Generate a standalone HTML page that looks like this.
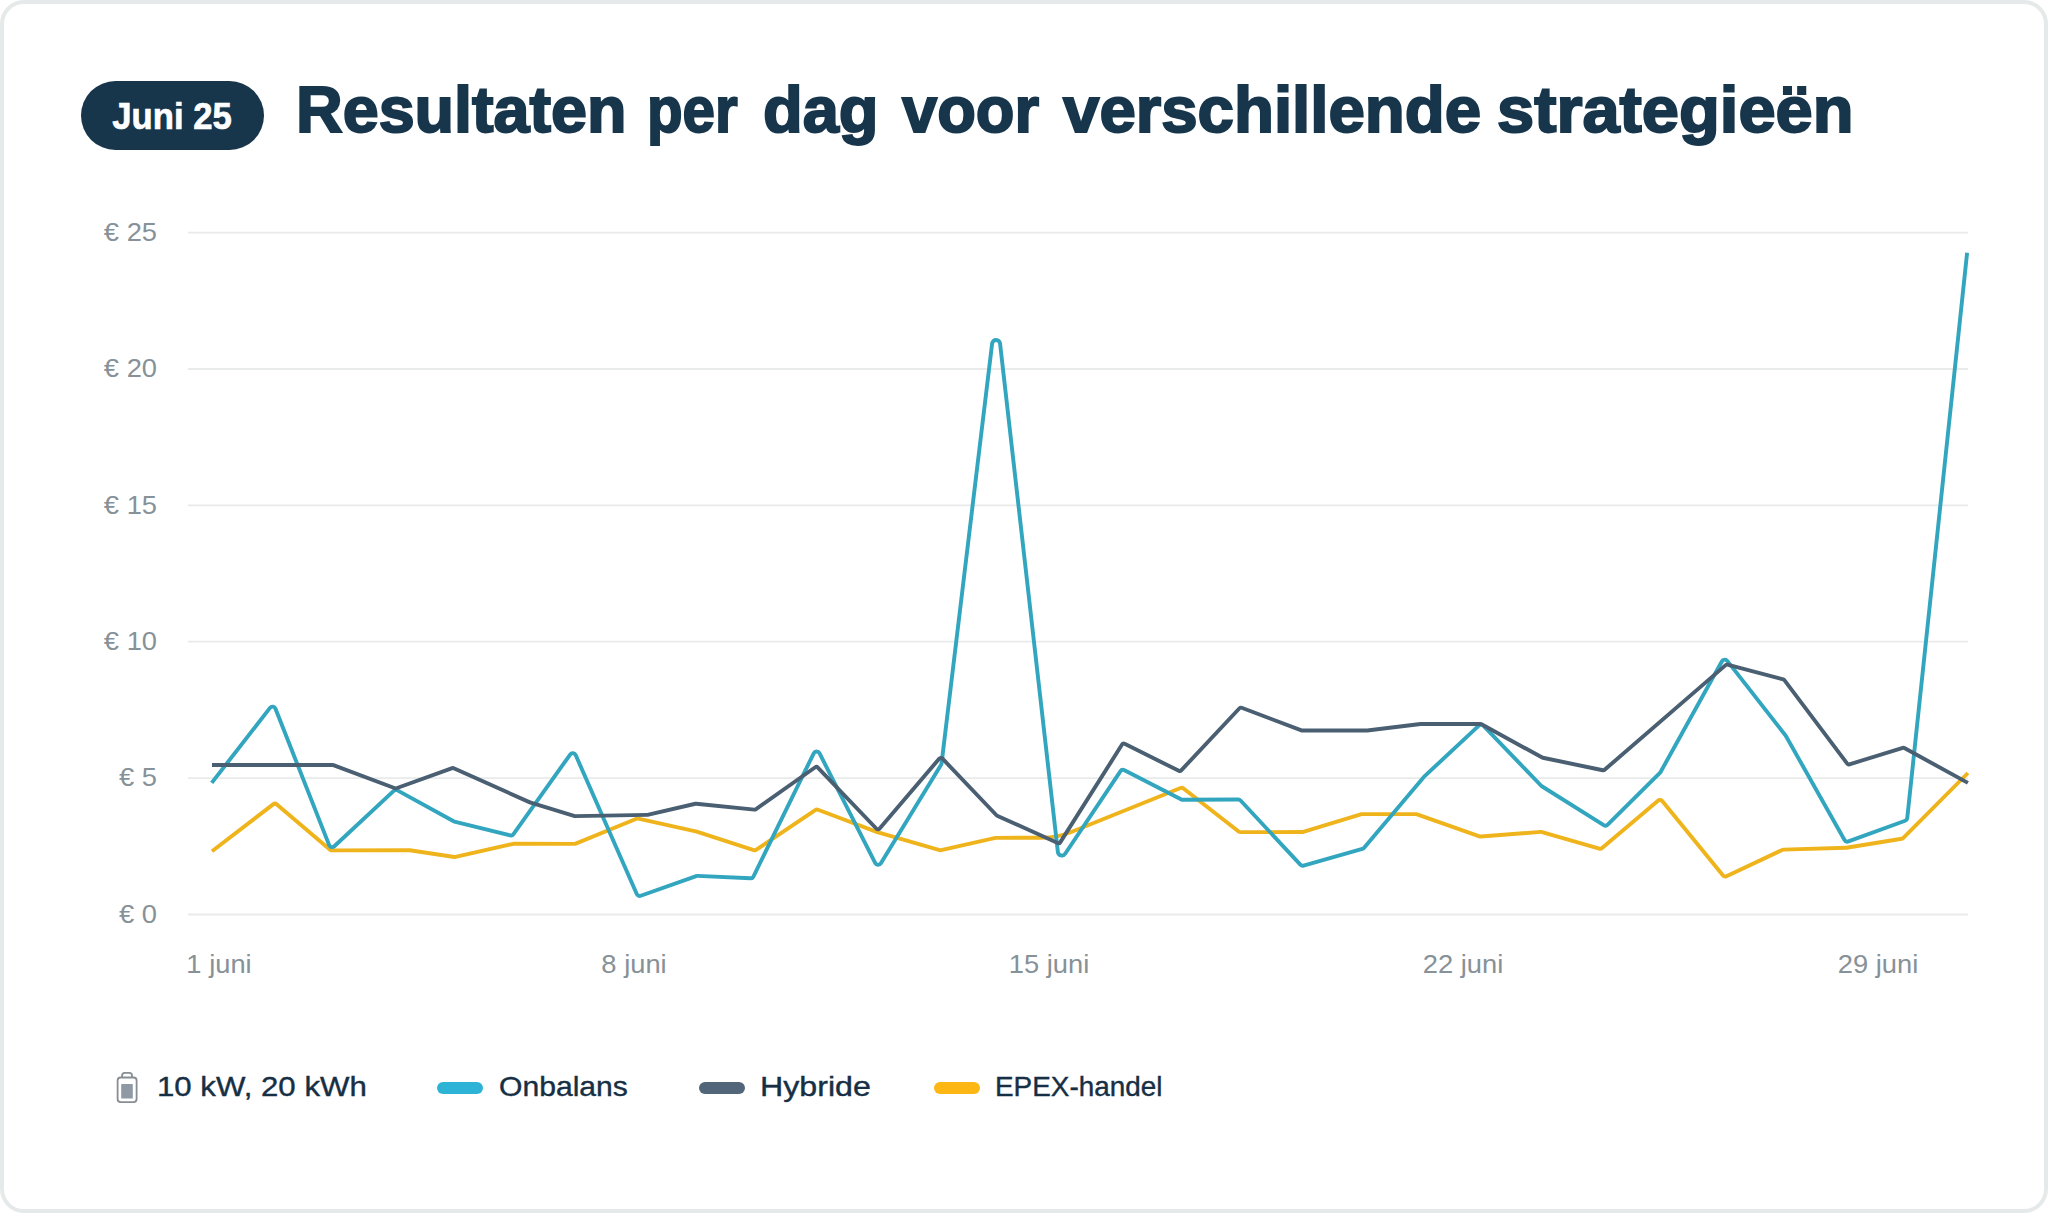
<!DOCTYPE html>
<html><head><meta charset="utf-8"><title>Resultaten per dag</title>
<style>
html,body{margin:0;padding:0;background:#fff;}
body{width:2048px;height:1213px;position:relative;overflow:hidden;font-family:"Liberation Sans",sans-serif;}
.card{position:absolute;left:0;top:0;width:2048px;height:1213px;box-sizing:border-box;border:4px solid #e5e9e9;border-radius:24px;background:#fff;}
.pill{position:absolute;left:81px;top:81px;width:182.6px;height:69px;border-radius:34.5px;background:#17354b;}
.pilltxt{position:absolute;left:80px;top:81.5px;width:184px;height:68px;line-height:68px;text-align:center;color:#fff;font-weight:bold;font-size:37.5px;white-space:nowrap;transform:scaleX(0.925);-webkit-text-stroke:0.7px #fff;}
.title{position:absolute;left:295px;top:77.2px;color:#17354b;font-weight:bold;font-size:65px;letter-spacing:0px;line-height:1;white-space:nowrap;transform-origin:0 0;-webkit-text-stroke:2px #17354b;}
.yl{position:absolute;left:57.1px;width:100px;text-align:right;color:#879198;font-size:26px;line-height:30px;height:30px;white-space:nowrap;transform-origin:100% 50%;transform:scaleX(1.05);}
.xl{position:absolute;top:949.2px;width:200px;text-align:center;color:#879198;font-size:26px;line-height:30px;height:30px;white-space:nowrap;transform:scaleX(1.05);}
svg{position:absolute;left:0;top:0;}
.lg{position:absolute;top:1069px;color:#172f44;font-size:28.5px;line-height:34px;height:34px;white-space:nowrap;transform-origin:0 50%;-webkit-text-stroke:0.4px #172f44;}
.sw{position:absolute;top:1082px;width:46px;height:12px;border-radius:6px;}
</style></head><body>
<div class="card"></div>
<div class="pill"></div><div class="pilltxt">Juni 25</div>
<div class="title" style="left:295.59px;transform:scaleX(0.9947)">Resultaten</div><div class="title" style="left:646.57px;transform:scaleX(0.8970)">per</div><div class="title" style="left:763.49px;transform:scaleX(0.9999)">dag</div><div class="title" style="left:902.07px;transform:scaleX(0.9739)">voor</div><div class="title" style="left:1063.01px;transform:scaleX(1.0064)">verschillende</div><div class="title" style="left:1497.46px;transform:scaleX(1.0282)">strategieën</div>
<svg width="2048" height="1213" viewBox="0 0 2048 1213">
<g stroke="#e9eaea" stroke-width="1.8"><line x1="188" x2="1968" y1="232.6" y2="232.6"/><line x1="188" x2="1968" y1="369.0" y2="369.0"/><line x1="188" x2="1968" y1="505.3" y2="505.3"/><line x1="188" x2="1968" y1="641.7" y2="641.7"/><line x1="188" x2="1968" y1="778.1" y2="778.1"/><line x1="188" x2="1968" y1="914.5" y2="914.5"/></g>
<g fill="none" stroke-width="3.9" stroke-linejoin="round" stroke-linecap="butt">
<path stroke="#efb41c" d="M212.00 851.20 L273.10 804.35 A3.00 3.00 0 0 1 276.87 804.44 L330.09 849.66 A3.00 3.00 0 0 0 332.04 850.38 L409.27 850.19 A3.00 3.00 0 0 1 409.73 850.23 L454.44 856.97 A3.00 3.00 0 0 0 455.55 856.93 L513.37 843.86 A3.00 3.00 0 0 1 514.03 843.78 L574.52 843.85 A3.00 3.00 0 0 0 575.66 843.63 L636.52 818.72 A3.00 3.00 0 0 1 638.31 818.56 L695.67 831.37 A3.00 3.00 0 0 1 695.93 831.44 L753.76 850.07 A3.00 3.00 0 0 0 756.35 849.71 L815.27 810.10 A3.00 3.00 0 0 1 818.01 809.78 L877.89 832.36 A3.00 3.00 0 0 0 878.12 832.44 L939.66 850.08 A3.00 3.00 0 0 0 941.14 850.13 L995.48 837.95 A3.00 3.00 0 0 1 996.13 837.88 L1041.64 837.75 A80.00 80.00 0 0 0 1071.25 831.97 L1180.56 788.00 A3.00 3.00 0 0 1 1183.53 788.42 L1238.63 831.52 A3.00 3.00 0 0 0 1240.48 832.16 L1302.36 832.03 A3.00 3.00 0 0 0 1303.23 831.90 L1360.77 814.30 A3.00 3.00 0 0 1 1361.64 814.17 L1416.09 814.16 A3.00 3.00 0 0 1 1417.09 814.33 L1479.49 836.35 A3.00 3.00 0 0 0 1480.72 836.52 L1540.96 831.90 A3.00 3.00 0 0 1 1542.03 832.01 L1599.33 848.63 A3.00 3.00 0 0 0 1602.11 848.04 L1657.98 800.66 A3.00 3.00 0 0 1 1662.24 801.05 L1722.85 875.34 A3.00 3.00 0 0 0 1726.45 876.15 L1782.32 849.91 A3.00 3.00 0 0 1 1783.51 849.62 L1846.00 847.81 A3.00 3.00 0 0 0 1846.40 847.77 L1901.71 838.79 A3.00 3.00 0 0 0 1903.36 837.94 L1967.90 773.00"/>
<path stroke="#32a5bf" d="M211.70 782.90 L269.99 707.89 A3.20 3.20 0 0 1 275.49 708.68 L329.16 845.09 A3.20 3.20 0 0 0 334.32 846.26 L393.72 790.88 A3.20 3.20 0 0 1 397.45 790.41 L453.62 821.32 A3.20 3.20 0 0 0 454.40 821.63 L510.10 835.37 A3.20 3.20 0 0 0 513.48 834.12 L570.15 754.52 A3.20 3.20 0 0 1 575.69 755.09 L636.76 894.00 A3.20 3.20 0 0 0 640.76 895.73 L696.20 876.06 A3.20 3.20 0 0 1 697.42 875.88 L750.40 878.32 A3.20 3.20 0 0 0 753.43 876.53 L813.74 753.27 A3.20 3.20 0 0 1 819.46 753.22 L875.30 863.05 A3.20 3.20 0 0 0 880.88 863.26 L941.11 764.72 A3.20 3.20 0 0 0 941.56 763.43 L992.12 343.44 A4.00 4.00 0 0 1 1000.06 343.46 L1057.87 851.97 A4.00 4.00 0 0 0 1065.17 853.74 L1120.35 771.35 A3.20 3.20 0 0 1 1124.47 770.29 L1181.38 799.43 A3.20 3.20 0 0 0 1182.86 799.78 L1238.21 799.45 A3.20 3.20 0 0 1 1240.57 800.47 L1300.33 864.68 A3.20 3.20 0 0 0 1303.54 865.58 L1362.34 848.99 A3.20 3.20 0 0 0 1363.91 847.98 L1423.87 776.94 A3.20 3.20 0 0 1 1424.13 776.67 L1478.83 725.61 A3.20 3.20 0 0 1 1483.32 725.72 L1541.21 785.74 A3.20 3.20 0 0 0 1541.82 786.23 L1603.74 825.10 A3.20 3.20 0 0 0 1607.70 824.67 L1659.90 772.94 A3.20 3.20 0 0 0 1660.45 772.22 L1721.96 661.25 A3.20 3.20 0 0 1 1727.28 660.83 L1785.76 735.81 A3.20 3.20 0 0 1 1786.03 736.20 L1844.53 839.95 A3.20 3.20 0 0 0 1848.41 841.39 L1905.18 820.74 A3.20 3.20 0 0 0 1907.26 818.07 L1967.10 252.80"/>
<path stroke="#4a5f72" d="M212.00 765.00 L273.00 765.00 L332.64 764.97 A2.00 2.00 0 0 1 333.35 765.10 L395.01 788.27 A2.00 2.00 0 0 0 396.39 788.28 L452.25 768.12 A2.00 2.00 0 0 1 453.74 768.18 L530.48 802.65 A2.00 2.00 0 0 0 530.72 802.74 L574.80 816.03 A2.00 2.00 0 0 0 575.41 816.12 L647.09 814.91 A2.00 2.00 0 0 0 647.51 814.86 L695.47 803.75 A2.00 2.00 0 0 1 696.13 803.71 L754.39 809.65 A2.00 2.00 0 0 0 755.74 809.30 L815.25 767.28 A2.00 2.00 0 0 1 817.85 767.53 L876.50 828.74 A2.00 2.00 0 0 0 879.46 828.66 L939.34 758.54 A2.00 2.00 0 0 1 942.31 758.45 L996.51 815.25 A2.00 2.00 0 0 0 997.13 815.69 L1057.70 843.09 A2.00 2.00 0 0 0 1060.21 842.34 L1122.05 744.58 A2.00 2.00 0 0 1 1124.63 743.86 L1178.85 770.80 A2.00 2.00 0 0 0 1181.20 770.38 L1239.50 708.29 A2.00 2.00 0 0 1 1241.66 707.79 L1301.45 730.40 A2.00 2.00 0 0 0 1302.16 730.53 L1366.98 730.50 A2.00 2.00 0 0 0 1367.22 730.49 L1420.48 724.01 A2.00 2.00 0 0 1 1420.72 724.00 L1480.60 724.04 A2.00 2.00 0 0 1 1481.56 724.28 L1542.23 757.58 A2.00 2.00 0 0 0 1542.79 757.78 L1602.89 770.22 A2.00 2.00 0 0 0 1604.60 769.77 L1725.65 665.14 A2.00 2.00 0 0 1 1727.46 664.72 L1783.29 679.33 A2.00 2.00 0 0 1 1784.38 680.06 L1847.22 763.59 A2.00 2.00 0 0 0 1849.41 764.30 L1902.81 747.88 A2.00 2.00 0 0 1 1904.36 748.04 L1967.90 782.90"/>
</g>
<g>
<path d="M122.1 1077.5V1075.4a2.6 2.6 0 0 1 2.6 -2.6h4.7a2.6 2.6 0 0 1 2.6 2.6V1077.5" fill="none" stroke="#878e93" stroke-width="1.8"/>
<rect x="117.6" y="1077.5" width="19" height="24.6" rx="3" fill="#fff" stroke="#878e93" stroke-width="1.8"/>
<rect x="121.2" y="1084.1" width="11.6" height="14.4" rx="0.6" fill="#8e99a4"/>
</g>
</svg>
<div class="yl" style="top:216.8px">€ 25</div><div class="yl" style="top:353.2px">€ 20</div><div class="yl" style="top:489.5px">€ 15</div><div class="yl" style="top:625.9px">€ 10</div><div class="yl" style="top:762.3px">€ 5</div><div class="yl" style="top:898.7px">€ 0</div>
<div class="xl" style="left:118.6px">1 juni</div><div class="xl" style="left:533.6px">8 juni</div><div class="xl" style="left:948.6px">15 juni</div><div class="xl" style="left:1363.4px">22 juni</div><div class="xl" style="left:1778.4px">29 juni</div>
<div class="lg" style="left:157.43px;transform:scaleX(1.0946)">10 kW, 20 kWh</div>
<div class="sw" style="left:437px;background:#2db3d6"></div>
<div class="lg" style="left:498.75px;transform:scaleX(1.0565)">Onbalans</div>
<div class="sw" style="left:699px;background:#52667a"></div>
<div class="lg" style="left:759.97px;transform:scaleX(1.1290)">Hybride</div>
<div class="sw" style="left:933.5px;background:#fdb714"></div>
<div class="lg" style="left:995.24px;transform:scaleX(0.9787)">EPEX-handel</div>
</body></html>
